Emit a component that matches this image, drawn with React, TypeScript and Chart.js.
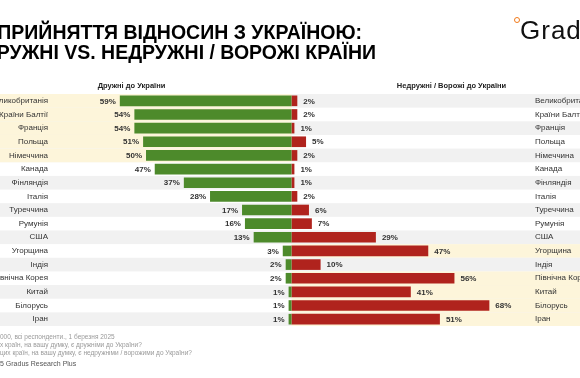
import React, { useEffect, useRef } from "react";
import { Chart, registerables } from "chart.js";

Chart.register(...registerables);

const categories = [
  "Великобританія",
  "Країни Балтії",
  "Франція",
  "Польща",
  "Німеччина",
  "Канада",
  "Фінляндія",
  "Італія",
  "Туреччина",
  "Румунія",
  "США",
  "Угорщина",
  "Індія",
  "Північна Корея",
  "Китай",
  "Білорусь",
  "Іран",
];
const friendly = [59, 54, 54, 51, 50, 47, 37, 28, 17, 16, 13, 3, 2, 2, 1, 1, 1];
const hostile = [2, 2, 1, 5, 2, 1, 1, 2, 6, 7, 29, 47, 10, 56, 41, 68, 51];
const highlightFriendly = [0, 1, 2, 3, 4];
const highlightHostile = [11, 13, 14, 15, 16];
const headerFriendly = "Дружні до України";
const headerHostile = "Недружні / Ворожі до України";

const GREEN = "#4d8a2b";
const RED = "#b0231d";
const GREY_BAND = "#f1f1f1";
const YELLOW_BAND = "#fdf5da";
const FONT = "'Liberation Sans', Arial, sans-serif";

export default function App() {
  const ref = useRef<HTMLCanvasElement | null>(null);

  useEffect(() => {
    const canvas = ref.current;
    if (!canvas) return;

    const bandsPlugin = {
      id: "bands",
      beforeDraw(chart: any) {
        const { ctx, chartArea } = chart;
        const y = chart.scales.y;
        const step = (chartArea.bottom - chartArea.top) / categories.length;
        const center = chart.scales.x.getPixelForValue(0);
        ctx.save();
        categories.forEach((_, i) => {
          const cy = y.getPixelForValue(i);
          const top = cy - step / 2;
          if (i % 2 === 0) {
            ctx.fillStyle = GREY_BAND;
            ctx.fillRect(0, top, chart.width, step);
          }
          if (highlightFriendly.includes(i)) {
            ctx.fillStyle = YELLOW_BAND;
            ctx.fillRect(0, top, center, step);
          }
          if (highlightHostile.includes(i)) {
            ctx.fillStyle = YELLOW_BAND;
            ctx.fillRect(center, top, chart.width - center, step);
          }
        });
        ctx.fillStyle = "#222";
        ctx.font = `bold 7.5px ${FONT}`;
        ctx.textAlign = "center";
        ctx.textBaseline = "middle";
        ctx.fillText(headerFriendly, chart.scales.x.getPixelForValue(-55), 86);
        ctx.fillText(headerHostile, chart.scales.x.getPixelForValue(55), 86);
        ctx.restore();
      },
    };

    const labelsPlugin = {
      id: "valueLabels",
      afterDatasetsDraw(chart: any) {
        const { ctx } = chart;
        const m0 = chart.getDatasetMeta(0);
        const m1 = chart.getDatasetMeta(1);
        ctx.save();
        ctx.fillStyle = "#333";
        ctx.font = `bold 8px ${FONT}`;
        ctx.textBaseline = "middle";
        m0.data.forEach((el: any, i: number) => {
          ctx.textAlign = "right";
          ctx.fillText(friendly[i] + "%", el.x - 4, el.y + 0.5);
        });
        m1.data.forEach((el: any, i: number) => {
          ctx.textAlign = "left";
          ctx.fillText(hostile[i] + "%", el.x + 6, el.y + 0.5);
        });
        ctx.restore();
      },
    };

    const chart = new Chart(canvas, {
      type: "bar",
      data: {
        labels: categories,
        datasets: [
          {
            label: headerFriendly,
            data: friendly.map((v) => -v),
            backgroundColor: GREEN,
            borderWidth: 0,
            barPercentage: 0.78,
            categoryPercentage: 1,
          },
          {
            label: headerHostile,
            data: hostile,
            backgroundColor: RED,
            borderWidth: 0,
            barPercentage: 0.78,
            categoryPercentage: 1,
          },
        ],
      },
      options: {
        indexAxis: "y",
        responsive: false,
        animation: false,
        devicePixelRatio: 1,
        layout: { padding: { top: 94, bottom: 52, left: 0, right: 0 } },
        plugins: {
          legend: { display: false },
          tooltip: { enabled: false },
        },
        scales: {
          x: {
            stacked: true,
            min: -83,
            max: 83,
            display: false,
          },
          y: {
            stacked: true,
            position: "left",
            grid: { display: false, drawTicks: false },
            border: { display: false },
            ticks: {
              padding: 2,
              color: "#333",
              font: { family: FONT, size: 8 },
            },
            afterFit: (s: any) => {
              s.width = 50;
            },
          },
          y2: {
            type: "category",
            labels: categories,
            position: "right",
            offset: true,
            grid: { display: false, drawTicks: false },
            border: { display: false },
            ticks: {
              padding: 2,
              color: "#333",
              font: { family: FONT, size: 8 },
            },
            afterFit: (s: any) => {
              s.width = 47;
            },
          },
        },
      } as any,
      plugins: [bandsPlugin, labelsPlugin],
    });

    return () => chart.destroy();
  }, []);

  return (
    <div
      style={{
        position: "fixed",
        left: 0,
        top: 0,
        width: 580,
        height: 378,
        overflow: "hidden",
        background: "#fff",
        fontFamily: FONT,
      }}
    >
      <canvas
        ref={ref}
        width={580}
        height={378}
        style={{ position: "absolute", left: 0, top: 0, width: 580, height: 378 }}
      />
      <div
        style={{
          position: "absolute",
          right: 218,
          top: 23,
          whiteSpace: "nowrap",
          fontSize: 19.5,
          lineHeight: "19px",
          fontWeight: 700,
          color: "#000",
          textAlign: "right",
        }}
      >
        СПРИЙНЯТТЯ ВІДНОСИН З УКРАЇНОЮ:
      </div>
      <div
        style={{
          position: "absolute",
          right: 204,
          top: 43,
          whiteSpace: "nowrap",
          fontSize: 19.5,
          lineHeight: "19px",
          fontWeight: 700,
          color: "#000",
          textAlign: "right",
        }}
      >
        ДРУЖНІ VS. НЕДРУЖНІ / ВОРОЖІ КРАЇНИ
      </div>
      <div
        style={{
          position: "absolute",
          left: 514,
          top: 17,
          width: 4,
          height: 4,
          borderRadius: "50%",
          border: "1.5px solid #f07a1a",
        }}
      />
      <div
        style={{
          position: "absolute",
          left: 520,
          top: 17,
          whiteSpace: "nowrap",
          fontSize: 26,
          lineHeight: "26px",
          color: "#111",
          letterSpacing: 1,
        }}
      >
        Gradus
      </div>
      <div style={{ position: "absolute", left: 0, top: 333, fontSize: 6.5, lineHeight: "8px", color: "#9a9a9a", whiteSpace: "nowrap" }}>
        <div>000, всі респонденти., 1 березня 2025</div>
        <div>х країн, на вашу думку, є дружніми до України?</div>
        <div>цих країн, на вашу думку, є недружніми / ворожими до України?</div>
      </div>
      <div style={{ position: "absolute", left: 0, top: 360, fontSize: 7, lineHeight: "8px", color: "#555", whiteSpace: "nowrap" }}>
        5 Gradus Research Plus
      </div>
    </div>
  );
}
